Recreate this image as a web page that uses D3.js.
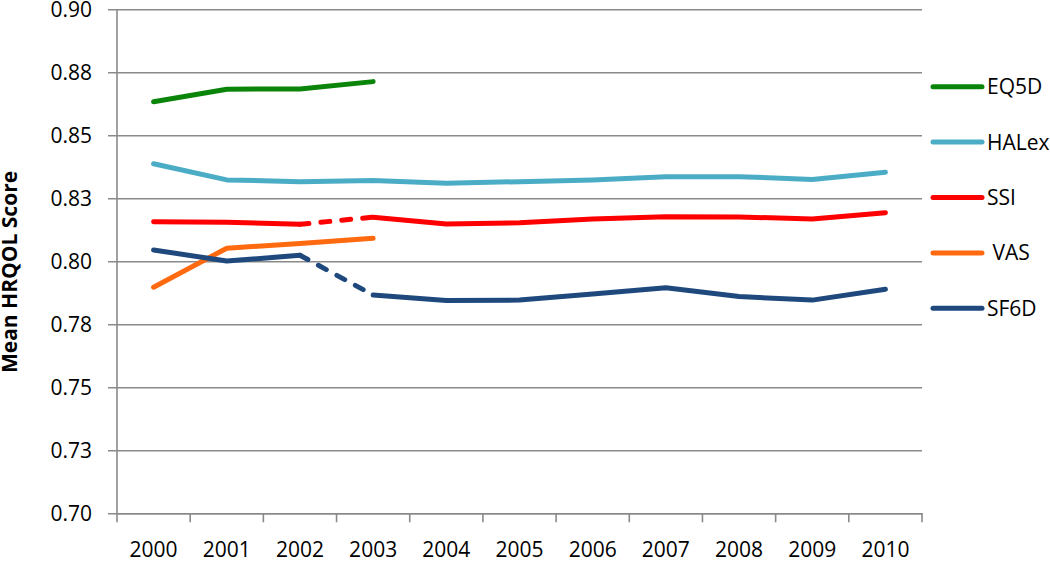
<!DOCTYPE html>
<html>
<head>
<meta charset="utf-8">
<script src="https://cdn.jsdelivr.net/npm/d3@7"></script>
<style>
  body { margin: 0; background: #fff; }
  text { font-family: "Open Sans", "Noto Sans", sans-serif; }
</style>
</head>
<body>
<div id="plot"></div>
<script>
// chart data
const years = ["2000","2001","2002","2003","2004","2005","2006","2007","2008","2009","2010"];
const yTicks = [0.700, 0.725, 0.750, 0.775, 0.800, 0.825, 0.850, 0.875, 0.900];
const yTickLabels = ["0.70","0.73","0.75","0.78","0.80","0.83","0.85","0.88","0.90"];

const eq5d  = [0.8633, 0.8683, 0.8684, 0.8713];
const halex = [0.8387, 0.8323, 0.8316, 0.8321, 0.8310, 0.8316, 0.8323, 0.8336, 0.8336, 0.8325, 0.8353];
const ssi   = [0.8157, 0.8155, 0.8147, 0.8175, 0.8148, 0.8153, 0.8168, 0.8177, 0.8176, 0.8168, 0.8193];
const vas   = [0.7897, 0.8052, 0.8071, 0.8091];
const sf6d  = [0.8045, 0.8001, 0.8024, 0.7866, 0.7844, 0.7846, 0.7870, 0.7895, 0.7860, 0.7846, 0.7889];

const seriesNames = ["EQ5D", "HALex", "SSI", " VAS", "SF6D"];
const seriesValues = [eq5d, halex, ssi, vas, sf6d];
const colors = ["#0a850a", "#4bacc6", "#ff0000", "#ff6a10", "#1f497d"];
// segment starting at this year index is dashed (-1 = none)
const dashedFrom = [-1, -1, 2, -1, 2];

const width = 1050;
const height = 561;
const plotLeft = 117, plotRight = 922, plotTop = 9.3, plotBottom = 513.3;

const svg = d3.select("div#plot")
  .append("svg")
  .attr("width", width)
  .attr("height", height);

const x = d3.scaleBand()
  .domain(years)
  .range([plotLeft, plotRight]);

const y = d3.scaleLinear()
  .domain([0.70, 0.90])
  .range([plotBottom, plotTop]);

const gridColor = "#8a8a8a";

// horizontal gridlines + y axis
const yAxis = d3.axisLeft(y)
  .tickValues(yTicks)
  .tickSize(-(plotRight - plotLeft))
  .tickSizeOuter(0)
  .tickPadding(25)
  .tickFormat((d, i) => yTickLabels[i]);

const gy = svg.append("g")
  .attr("transform", `translate(${plotLeft},0)`)
  .call(yAxis);
gy.select(".domain").remove();
gy.selectAll(".tick line")
  .attr("x1", -9)
  .attr("stroke", gridColor)
  .attr("stroke-width", 1.6);
gy.selectAll(".tick text")
  .style("font-size", "21px")
  .attr("fill", "#000");

svg.append("line")
  .attr("x1", plotLeft).attr("x2", plotLeft)
  .attr("y1", plotTop).attr("y2", plotBottom)
  .attr("stroke", gridColor)
  .attr("stroke-width", 1.6);

// x axis
const xAxis = d3.axisBottom(x)
  .tickSize(0)
  .tickSizeOuter(0)
  .tickPadding(29);
const gx = svg.append("g")
  .attr("transform", `translate(0,${plotBottom})`)
  .call(xAxis);
gx.select(".domain")
  .attr("stroke", gridColor)
  .attr("stroke-width", 1.6);
gx.selectAll(".tick text")
  .style("font-size", "21px")
  .attr("fill", "#000")
  .attr("dy", "0.71em");

// tick marks between categories
const bounds = years.map(d => x(d)).concat([x(years[years.length - 1]) + x.bandwidth()]);
svg.append("g")
  .selectAll("line")
  .data(bounds)
  .join("line")
  .attr("x1", d => d).attr("x2", d => d)
  .attr("y1", plotBottom).attr("y2", plotBottom + 9)
  .attr("stroke", gridColor)
  .attr("stroke-width", 1.6);

// y axis title
svg.append("text")
  .attr("transform", "translate(17,272) rotate(-90)")
  .attr("text-anchor", "middle")
  .style("font-size", "21px")
  .style("font-weight", "bold")
  .text("Mean HRQOL Score");

// lines
const px = (i) => x(years[i]) + x.bandwidth() / 2;
const line = d3.line()
  .x(d => px(d.i))
  .y(d => y(d.v));

seriesValues.forEach((vals, s) => {
  const pts = vals.map((v, i) => ({ i, v }));
  const cut = dashedFrom[s];
  const g = svg.append("g")
    .attr("fill", "none")
    .attr("stroke", colors[s])
    .attr("stroke-width", 5)
    .attr("stroke-linejoin", "round")
    .attr("stroke-linecap", "round");
  if (cut < 0) {
    g.append("path").attr("d", line(pts));
  } else {
    g.append("path").attr("d", line(pts.slice(0, cut + 1)));
    g.append("path").attr("d", line(pts.slice(cut, cut + 2)))
      .attr("stroke-dasharray", "9,12");
    g.append("path").attr("d", line(pts.slice(cut + 1)));
  }
});

// legend
const legendY = d3.scalePoint()
  .domain(seriesNames)
  .range([86.7, 308.3]);

const legend = svg.selectAll(".legend")
  .data(seriesNames)
  .enter().append("g")
  .attr("class", "legend")
  .attr("transform", d => `translate(0,${legendY(d)})`);

legend.append("line")
  .attr("x1", 933).attr("x2", 982)
  .attr("stroke", (d, i) => colors[i])
  .attr("stroke-width", 5)
  .attr("stroke-linecap", "round");

legend.append("text")
  .attr("x", 987)
  .attr("dy", "0.36em")
  .style("font-size", "21px")
  .style("white-space", "pre")
  .attr("xml:space", "preserve")
  .text(d => d);
</script>
</body>
</html>
